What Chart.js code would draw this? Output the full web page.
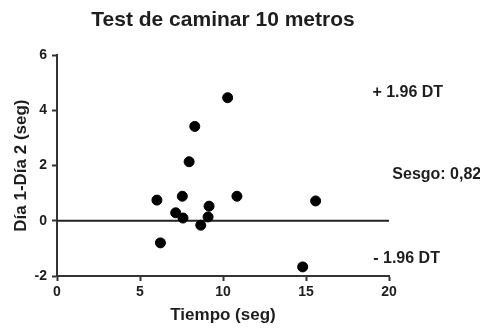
<!DOCTYPE html>
<html>
<head>
<meta charset="utf-8">
<script src="https://cdn.jsdelivr.net/npm/chart.js@4.4.1/dist/chart.umd.min.js"></script>
<style>
  html, body { margin: 0; padding: 0; background: #fff; }
  #wrap { width: 480px; height: 329px; }
</style>
</head>
<body>
<div id="wrap"><canvas id="chart" width="480" height="329"></canvas></div>
<script>
// Bland-Altman data
const tiempo = [10.28, 8.30, 7.96, 6.02, 7.55, 10.84, 15.58, 9.16, 7.15, 7.59, 9.10, 8.66, 6.23, 14.80];
const diferencia = [4.46, 3.42, 2.14, 0.75, 0.89, 0.89, 0.72, 0.53, 0.29, 0.10, 0.14, -0.16, -0.80, -1.67];

// horizontal reference line
const lineaX = [0, 20];
const lineaY = [0, 0];

const xTicks = [0, 5, 10, 15, 20];
const yTicks = [-2, 0, 2, 4, 6];

const notas = ['+ 1.96 DT', 'Sesgo: 0,82', '- 1.96 DT'];

const FONT = "'Liberation Sans', Arial, sans-serif";
const INK = '#1e1e1e';

// side notes in the right margin
const notasPlugin = {
    id: 'notas',
    afterDraw(chart) {
        const ctx = chart.ctx;
        const x = chart.scales.x;
        const y = chart.scales.y;
        const spots = [[19.0, 4.65], [20.2, 1.67], [19.05, -1.37]];
        ctx.save();
        ctx.fillStyle = INK;
        ctx.font = 'bold 16px ' + FONT;
        ctx.textBaseline = 'middle';
        ctx.textAlign = 'left';
        notas.forEach((txt, i) => {
            ctx.fillText(txt, x.getPixelForValue(spots[i][0]), y.getPixelForValue(spots[i][1]));
        });
        ctx.restore();
    }
};

const ctx = document.getElementById('chart').getContext('2d');
new Chart(ctx, {
    type: 'scatter',
    data: {
        datasets: [
            {
                label: 'Diferencia',
                data: tiempo.map((t, i) => ({ x: t, y: diferencia[i] })),
                backgroundColor: '#000',
                borderColor: '#000',
                pointRadius: 5,
            },
            {
                type: 'line',
                label: 'Cero',
                data: lineaX.map((v, i) => ({ x: v, y: lineaY[i] })),
                borderColor: '#222',
                borderWidth: 2,
                pointRadius: 0,
                fill: false,
            },
        ],
    },
    options: {
        responsive: false,
        animation: false,
        layout: { padding: { left: 0, right: 91, top: 0, bottom: 0 } },
        plugins: {
            legend: { display: false },
            tooltip: { enabled: false },
            title: {
                display: true,
                text: 'Test de caminar 10 metros',
                fullSize: false,
                color: INK,
                font: { family: FONT, size: 21, weight: 'bold' },
                padding: { top: 8, bottom: 22 },
            },
        },
        scales: {
            x: {
                type: 'linear',
                min: 0,
                max: 20,
                afterBuildTicks: (s) => { s.ticks = xTicks.map(v => ({ value: v })); },
                afterFit: (s) => { s.height = 53; },
                grid: { drawOnChartArea: false, drawTicks: true, tickLength: 5, tickWidth: 2, tickColor: '#333' },
                border: { display: true, color: '#333', width: 2 },
                ticks: { color: INK, padding: 3, font: { family: FONT, size: 14, weight: 'bold' } },
                title: {
                    display: true,
                    text: 'Tiempo (seg)',
                    color: INK,
                    font: { family: FONT, size: 17, weight: 'bold' },
                    padding: { top: 0, bottom: 3 },
                },
            },
            y: {
                type: 'linear',
                min: -2,
                max: 6,
                afterBuildTicks: (s) => { s.ticks = yTicks.map(v => ({ value: v })); },
                afterFit: (s) => { s.width = 57; },
                grid: { drawOnChartArea: false, drawTicks: true, tickLength: 5, tickWidth: 2, tickColor: '#333' },
                border: { display: true, color: '#333', width: 2 },
                ticks: { color: INK, padding: 5, font: { family: FONT, size: 14, weight: 'bold' } },
                title: {
                    display: true,
                    text: 'Día 1-Día 2 (seg)',
                    color: INK,
                    font: { family: FONT, size: 17, weight: 'bold' },
                    padding: { top: 11, bottom: 0 },
                },
            },
        },
    },
    plugins: [notasPlugin],
});
</script>
</body>
</html>
